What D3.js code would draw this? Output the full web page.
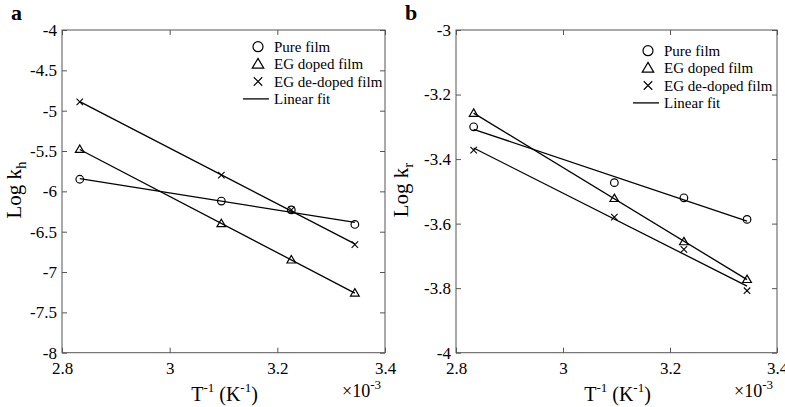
<!DOCTYPE html>
<html>
<head>
<meta charset="utf-8">
<script src="https://cdn.jsdelivr.net/npm/d3@7"></script>
<style>
  body { margin: 0; background: #fff; }
  svg text { font-family: "Liberation Serif", "Times New Roman", serif; fill: #000; }
</style>
</head>
<body>
<svg width="785" height="407"></svg>
<script>
// data
const invT = [2.833, 3.096, 3.226, 3.344]

const pureA = [-5.85, -6.12, -6.23, -6.41]
const dopedA = [-5.48, -6.40, -6.85, -7.26]
const dedopedA = [-4.89, -5.80, -6.23, -6.66]

const pureB = [-3.30, -3.473, -3.52, -3.587]
const dopedB = [-3.258, -3.522, -3.656, -3.773]
const dedopedB = [-3.372, -3.580, -3.68, -3.808]

const xTicks = [2.8, 3, 3.2, 3.4]
const yTicksA = [-8, -7.5, -7, -6.5, -6, -5.5, -5, -4.5, -4]
const yTicksB = [-4, -3.8, -3.6, -3.4, -3.2, -3]
const legendLabels = ['Pure film', 'EG doped film', 'EG de-doped film', 'Linear fit']

const svg = d3.select('svg')
const serif = '"Liberation Serif", "Times New Roman", serif'

// least squares line through a series
function fit(xs, ys) {
  const mx = d3.mean(xs), my = d3.mean(ys)
  const sxy = d3.sum(xs, (x, i) => (x - mx) * (ys[i] - my))
  const sxx = d3.sum(xs, x => (x - mx) * (x - mx))
  const b = sxy / sxx
  return x => my + b * (x - mx)
}

function marker(g, type, cx, cy, s) {
  if (type === 'circle') {
    g.append('circle').attr('cx', cx).attr('cy', cy).attr('r', s)
      .attr('fill', 'none').attr('stroke', '#000').attr('stroke-width', 1.2)
  } else if (type === 'triangle') {
    const h = s * 1.15
    g.append('path')
      .attr('d', `M${cx},${cy - h}L${cx + h},${cy + h * 0.7}L${cx - h},${cy + h * 0.7}Z`)
      .attr('fill', 'none').attr('stroke', '#000').attr('stroke-width', 1.2)
  } else {
    const d = s * 0.85
    g.append('path')
      .attr('d', `M${cx - d},${cy - d}L${cx + d},${cy + d}M${cx - d},${cy + d}L${cx + d},${cy - d}`)
      .attr('fill', 'none').attr('stroke', '#000').attr('stroke-width', 1.1)
  }
}

function panel(opt) {
  const g = svg.append('g')
  const x = d3.scaleLinear().domain([2.8, 3.4]).range([opt.left, opt.right])
  const y = d3.scaleLinear().domain(opt.yDomain).range([352.7, 30])

  // box
  g.append('rect')
    .attr('x', opt.left).attr('y', 30)
    .attr('width', opt.right - opt.left).attr('height', 322.7)
    .attr('fill', 'none').attr('stroke', '#555').attr('stroke-width', 1)

  // inward ticks on all four sides
  g.append('g').attr('transform', 'translate(0,352.7)')
    .call(d3.axisBottom(x).tickValues(xTicks).tickSize(-5).tickFormat(d => String(d)).tickPadding(9))
  g.append('g').attr('transform', 'translate(0,30)')
    .call(d3.axisTop(x).tickValues(xTicks).tickSize(-5).tickFormat(''))
  g.append('g').attr('transform', `translate(${opt.left},0)`)
    .call(d3.axisLeft(y).tickValues(opt.yTicks).tickSize(-5).tickFormat(d => String(d)).tickPadding(5))
  g.append('g').attr('transform', `translate(${opt.right},0)`)
    .call(d3.axisRight(y).tickValues(opt.yTicks).tickSize(-5).tickFormat(''))
  g.selectAll('.domain').remove()
  g.selectAll('g').attr('font-family', serif).attr('font-size', 17)
  g.selectAll('.tick line').attr('stroke', '#555')
  g.selectAll('.tick text').attr('fill', '#000')

  // fit lines and markers
  opt.series.forEach(s => {
    const f = fit(invT, s.values)
    const x0 = invT[0], x1 = invT[invT.length - 1]
    g.append('line')
      .attr('x1', x(x0)).attr('y1', y(f(x0)))
      .attr('x2', x(x1)).attr('y2', y(f(x1)))
      .attr('stroke', '#000').attr('stroke-width', 1.3)
    s.values.forEach((v, i) => marker(g, s.type, x(invT[i]), y(v), 3.8))
  })

  // legend
  const lg = g.append('g')
  legendLabels.forEach((lab, i) => {
    const cy = opt.legY + i * 17.4
    if (i < 3) marker(lg, ['circle', 'triangle', 'cross'][i], opt.legX, cy, 5)
    else lg.append('line').attr('x1', opt.legX - 15).attr('x2', opt.legX + 11)
      .attr('y1', cy).attr('y2', cy).attr('stroke', '#000').attr('stroke-width', 1.3)
    lg.append('text').attr('x', opt.legX + 16).attr('y', cy + 5)
      .attr('font-size', 15).text(lab)
  })

  // panel letter
  g.append('text').attr('x', opt.letterX).attr('y', 20)
    .attr('font-size', 22).attr('font-weight', 'bold').text(opt.letter)

  // y label
  const yl = g.append('text')
    .attr('transform', `translate(${opt.ylabX},190) rotate(-90)`)
    .attr('text-anchor', 'middle').attr('font-size', 21)
  yl.append('tspan').text('Log k')
  yl.append('tspan').attr('font-size', 15).attr('dy', 5).text(opt.sub)

  // x label
  const xl = g.append('text')
    .attr('x', (opt.left + opt.right) / 2 + 1).attr('y', 401)
    .attr('text-anchor', 'middle').attr('font-size', 20)
  xl.append('tspan').text('T')
  xl.append('tspan').attr('font-size', 13).attr('dy', -9).text('-1')
  xl.append('tspan').attr('dy', 9).text(' (K')
  xl.append('tspan').attr('font-size', 13).attr('dy', -9).text('-1')
  xl.append('tspan').attr('dy', 9).text(')')

  const sc = g.append('text').attr('x', opt.right - 43).attr('y', 397).attr('font-size', 18)
  sc.append('tspan').text('\u00d710')
  sc.append('tspan').attr('font-size', 13).attr('dy', -8).text('-3')
}

panel({
  left: 62, right: 385, yDomain: [-8, -4], yTicks: yTicksA,
  legX: 258, legY: 46.7, letter: 'a', letterX: 11, ylabX: 21, sub: 'h',
  series: [
    { values: pureA, type: 'circle' },
    { values: dopedA, type: 'triangle' },
    { values: dedopedA, type: 'cross' }
  ]
})

panel({
  left: 456, right: 777, yDomain: [-4, -3], yTicks: yTicksB,
  legX: 648, legY: 50.7, letter: 'b', letterX: 405, ylabX: 408, sub: 'r',
  series: [
    { values: pureB, type: 'circle' },
    { values: dopedB, type: 'triangle' },
    { values: dedopedB, type: 'cross' }
  ]
})
</script>
</body>
</html>
